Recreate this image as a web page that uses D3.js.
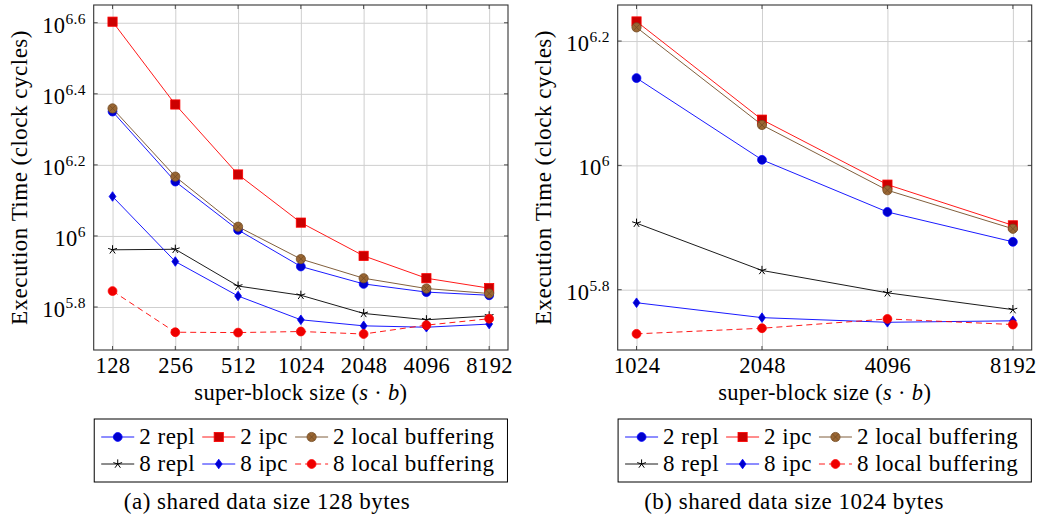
<!DOCTYPE html>
<html>
<head>
<meta charset="utf-8">
<script src="https://cdn.jsdelivr.net/npm/d3@7"></script>
<style>
  body { margin: 0; background: #fff; }
  svg text { font-family: "Liberation Serif", "Times New Roman", serif; fill: #000; }
  .big { font-size: 23px; letter-spacing: 0.5px; }
</style>
</head>
<body>
<svg id="chart" width="1038" height="521"></svg>
<script>
// super-block sizes (x categories)
const sizesA = [128, 256, 512, 1024, 2048, 4096, 8192];
const sizesB = [1024, 2048, 4096, 8192];

// y tick exponents (labels are 10^e)
const yTicksA = [5.8, 6, 6.2, 6.4, 6.6];
const yTicksB = [5.8, 6, 6.2];

const seriesNames = ["2 repl", "2 ipc", "2 local buffering", "8 repl", "8 ipc", "8 local buffering"];

// (a) shared data size 128 bytes -- execution time in clock cycles
const a2Repl  = [2238700, 1422300, 1039900, 820400, 732800, 695000, 680800];
const a2Ipc   = [4009000, 2344200, 1489400, 1090200, 879000, 760300, 712900];
const a2Local = [2285600, 1468900, 1061700, 861000, 760300, 711200, 688700];
const a8Repl  = [914100, 917300, 722800, 680800, 605300, 580800, 595700];
const a8Ipc   = [1291200, 847200, 677600, 580800, 558500, 553400, 564900];
const a8Local = [699800, 535800, 534600, 538300, 529700, 561000, 584800];

// (b) shared data size 1024 bytes
const b2Repl  = [1381900, 1020900, 841400, 753400];
const b2Ipc   = [1704200, 1184500, 931100, 800800];
const b2Local = [1667200, 1161400, 912000, 790700];
const b8Repl  = [807200, 677600, 623700, 586100];
const b8Ipc   = [601200, 568900, 559200, 562300];
const b8Local = [535800, 547000, 566200, 554600];

// line / mark styles (pgfplots default cycle look)
const styles = [
  { color: "#0000ff", fill: "#0000cc", mark: "circle" },
  { color: "#ff0000", fill: "#cc0000", mark: "square" },
  { color: "#734d26", fill: "#996633", mark: "otimes" },
  { color: "#000000", fill: "none",    mark: "star" },
  { color: "#0000ff", fill: "#0000cc", mark: "diamond" },
  { color: "#ff0000", fill: "#ee0000", mark: "circle", dash: "6,4" }
];

const svg = d3.select("#chart");

function drawMark(g, type, x, y, st) {
  if (type === "circle") {
    g.append("circle").attr("cx", x).attr("cy", y).attr("r", 4.4)
      .attr("fill", st.fill).attr("stroke", st.color).attr("stroke-width", 0.8);
  } else if (type === "square") {
    g.append("rect").attr("x", x - 4.6).attr("y", y - 4.6).attr("width", 9.2).attr("height", 9.2)
      .attr("fill", st.fill).attr("stroke", st.color).attr("stroke-width", 0.8);
  } else if (type === "otimes") {
    g.append("circle").attr("cx", x).attr("cy", y).attr("r", 4.6)
      .attr("fill", st.fill).attr("stroke", st.color).attr("stroke-width", 0.8);
    const r = 3.2;
    g.append("path")
      .attr("d", `M${x - r},${y - r}L${x + r},${y + r}M${x - r},${y + r}L${x + r},${y - r}`)
      .attr("stroke", st.color).attr("stroke-width", 0.8);
  } else if (type === "star") {
    let d = "";
    for (let k = 0; k < 5; k++) {
      const a = -Math.PI / 2 + k * 2 * Math.PI / 5;
      d += `M${x},${y}L${x + 4.6 * Math.cos(a)},${y + 4.6 * Math.sin(a)}`;
    }
    g.append("path").attr("d", d).attr("stroke", st.color).attr("stroke-width", 1).attr("fill", "none");
  } else if (type === "diamond") {
    g.append("path")
      .attr("d", `M${x},${y - 4.8}L${x + 3.4},${y}L${x},${y + 4.8}L${x - 3.4},${y}Z`)
      .attr("fill", st.fill).attr("stroke", st.color).attr("stroke-width", 0.8);
  }
}

function panel(cfg) {
  const { left, right, top, bottom, xs, yTicks, yExp, series, caption, captionX } = cfg;
  const g = svg.append("g");
  const steps = xs.length - 1;
  const enl = steps * 0.05;

  const x = d3.scaleLog().base(2)
    .domain([xs[0] / Math.pow(2, enl), xs[xs.length - 1] * Math.pow(2, enl)])
    .range([left, right]);
  const y = d3.scaleLog()
    .domain([Math.pow(10, yExp[0]), Math.pow(10, yExp[1])])
    .range([bottom, top]);

  const w = right - left, h = bottom - top;
  const yVals = yTicks.map(e => Math.pow(10, e));

  // grid
  g.append("g").attr("transform", `translate(0,${bottom})`)
    .call(d3.axisBottom(x).tickValues(xs).tickSize(-h).tickFormat(""))
    .call(s => s.select(".domain").remove())
    .call(s => s.selectAll("line").attr("stroke", "#cfcfcf").attr("stroke-width", 1));
  g.append("g").attr("transform", `translate(${left},0)`)
    .call(d3.axisLeft(y).tickValues(yVals).tickSize(-w).tickFormat(""))
    .call(s => s.select(".domain").remove())
    .call(s => s.selectAll("line").attr("stroke", "#cfcfcf").attr("stroke-width", 1));

  // inward tick marks on all four sides
  const tk = 4;
  const ticks = g.append("g").attr("stroke", "#4d4d4d").attr("stroke-width", 1);
  xs.forEach(v => {
    ticks.append("line").attr("x1", x(v)).attr("x2", x(v)).attr("y1", bottom).attr("y2", bottom - tk);
    ticks.append("line").attr("x1", x(v)).attr("x2", x(v)).attr("y1", top).attr("y2", top + tk);
  });
  yVals.forEach(v => {
    ticks.append("line").attr("x1", left).attr("x2", left + tk).attr("y1", y(v)).attr("y2", y(v));
    ticks.append("line").attr("x1", right).attr("x2", right - tk).attr("y1", y(v)).attr("y2", y(v));
  });

  // x tick labels
  g.append("g").attr("transform", `translate(0,${bottom})`)
    .call(d3.axisBottom(x).tickValues(xs).tickSize(0).tickPadding(0).tickFormat(d3.format("d")))
    .call(s => s.select(".domain").remove())
    .call(s => s.selectAll("text").attr("y", 23).attr("dy", 0)
      .style("font-size", "22.5px").style("letter-spacing", "0.4px")
      .style("font-family", "Liberation Serif").attr("fill", "#000"));

  // y tick labels 10^e
  g.append("g").attr("transform", `translate(${left},0)`)
    .call(d3.axisLeft(y).tickValues(yVals).tickSize(0).tickPadding(8).tickFormat(""))
    .call(s => s.select(".domain").remove())
    .call(s => s.selectAll("text").each(function (d, i) {
      const t = d3.select(this).attr("dy", "0.42em")
        .style("font-size", "22.5px").style("letter-spacing", "0.3px")
        .style("font-family", "Liberation Serif").attr("fill", "#000");
      t.text("10");
      t.append("tspan").attr("dy", -9).style("font-size", "15.5px").text(String(yTicks[i]));
    }));

  // frame
  g.append("rect").attr("x", left).attr("y", top).attr("width", w).attr("height", h)
    .attr("fill", "none").attr("stroke", "#333").attr("stroke-width", 1.1);

  // series
  const line = d3.line().x(d => x(d[0])).y(d => y(d[1]));
  series.forEach((vals, i) => {
    const st = styles[i];
    const pts = xs.map((v, j) => [v, vals[j]]);
    const sg = g.append("g");
    sg.append("path").attr("d", line(pts)).attr("fill", "none")
      .attr("stroke", st.color).attr("stroke-width", 0.9)
      .attr("stroke-dasharray", st.dash || null);
    pts.forEach(p => drawMark(sg, st.mark, x(p[0]), y(p[1]), st));
  });

  // axis titles
  const cx = (left + right) / 2;
  const xt = g.append("text").attr("x", cx).attr("y", 400).attr("text-anchor", "middle")
    .style("font-size", "22.5px").style("letter-spacing", "0.3px");
  xt.append("tspan").text("super-block size (");
  xt.append("tspan").style("font-style", "italic").text("s");
  xt.append("tspan").text(" \u00b7 ");
  xt.append("tspan").style("font-style", "italic").text("b");
  xt.append("tspan").text(")");

  g.append("text").attr("class", "big")
    .attr("transform", `translate(${left - 75},${(top + bottom) / 2}) rotate(-90)`)
    .attr("text-anchor", "middle").attr("dy", "0.35em")
    .text("Execution Time (clock cycles)");

  // legend, 3 columns x 2 rows
  const lg = g.append("g");
  const imgW = 33, gap = 5, colGap = 7, padL = 7, padR = 13;
  const rowsY = [437, 464];
  const cols = [0, 1, 2].map(c => {
    const ws = [c, c + 3].map(k => {
      const t = svg.append("text").attr("class", "big").text(seriesNames[k]);
      const wd = t.node().getComputedTextLength();
      t.remove();
      return wd;
    });
    return Math.max(...ws);
  });
  const total = padL + cols.reduce((a, b) => a + imgW + gap + b, 0) + colGap * 2 + padR;
  const bx = cx - total / 2;
  lg.append("rect").attr("x", bx).attr("y", 419).attr("width", total).attr("height", 63)
    .attr("fill", "#fff").attr("stroke", "#000").attr("stroke-width", 1);
  let cxPos = bx + padL;
  cols.forEach((cw, c) => {
    [c, c + 3].forEach((k, r) => {
      const st = styles[k];
      const ly = rowsY[r];
      lg.append("line").attr("x1", cxPos).attr("x2", cxPos + imgW).attr("y1", ly).attr("y2", ly)
        .attr("stroke", st.color).attr("stroke-width", 0.9).attr("stroke-dasharray", st.dash || null);
      drawMark(lg, st.mark, cxPos + imgW / 2, ly, st);
      lg.append("text").attr("class", "big").attr("x", cxPos + imgW + gap).attr("y", ly + 7)
        .text(seriesNames[k]);
    });
    cxPos += imgW + gap + cw + colGap;
  });

  // caption
  g.append("text").attr("class", "big").attr("x", captionX).attr("y", 509)
    .attr("text-anchor", "middle").text(caption);
}

panel({
  left: 93.7, right: 508, top: 5, bottom: 350,
  xs: sizesA, yTicks: yTicksA, yExp: [5.679, 6.65],
  series: [a2Repl, a2Ipc, a2Local, a8Repl, a8Ipc, a8Local],
  caption: "(a) shared data size 128 bytes", captionX: 267
});

panel({
  left: 617.7, right: 1031.7, top: 5, bottom: 350,
  xs: sizesB, yTicks: yTicksB, yExp: [5.703, 6.258],
  series: [b2Repl, b2Ipc, b2Local, b8Repl, b8Ipc, b8Local],
  caption: "(b) shared data size 1024 bytes", captionX: 794
});
</script>
</body>
</html>
